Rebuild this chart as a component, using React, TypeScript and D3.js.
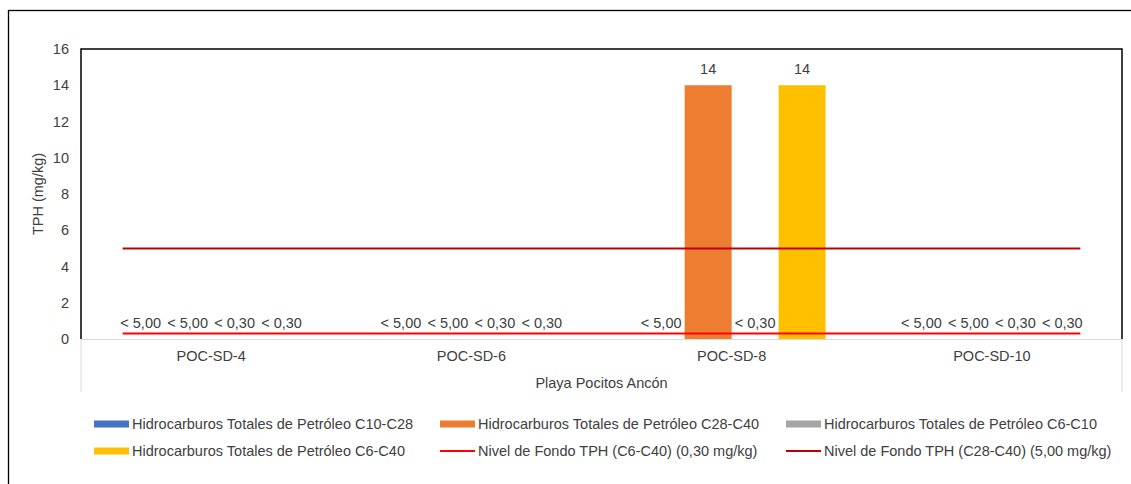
import React from 'react';
import * as d3 from 'd3';

const categories = ['POC-SD-4', 'POC-SD-6', 'POC-SD-8', 'POC-SD-10'];
const groupTitle = 'Playa Pocitos Ancón';

const seriesNames = [
  'Hidrocarburos Totales de Petróleo C10-C28',
  'Hidrocarburos Totales de Petróleo C28-C40',
  'Hidrocarburos Totales de Petróleo C6-C10',
  'Hidrocarburos Totales de Petróleo C6-C40',
];
const seriesColors = ['#4472C4', '#ED7D31', '#A5A5A5', '#FFC000'];

// valores (los "<" se dibujan en 0)
const c10c28 = [0, 0, 0, 0];
const c28c40 = [0, 0, 14, 0];
const c6c10 = [0, 0, 0, 0];
const c6c40 = [0, 0, 14, 0];

const c10c28Labels = ['< 5,00', '< 5,00', '< 5,00', '< 5,00'];
const c28c40Labels = ['< 5,00', '< 5,00', '14', '< 5,00'];
const c6c10Labels = ['< 0,30', '< 0,30', '< 0,30', '< 0,30'];
const c6c40Labels = ['< 0,30', '< 0,30', '14', '< 0,30'];

const levelNames = [
  'Nivel de Fondo TPH (C6-C40) (0,30 mg/kg)',
  'Nivel de Fondo TPH (C28-C40) (5,00 mg/kg)',
];
const levelValues = [0.3, 5];
const levelColors = ['#FF0000', '#C00000'];

const yTicks = [0, 2, 4, 6, 8, 10, 12, 14, 16];

const seriesValues = [c10c28, c28c40, c6c10, c6c40];
const seriesLabels = [c10c28Labels, c28c40Labels, c6c10Labels, c6c40Labels];

const W = 1131;
const H = 484;
const margin = { top: 49, right: 9, bottom: 145, left: 81 };
const font = 'Liberation Sans, Arial, sans-serif';
const textColor = '#404040';
const fs = 14.5;

export default function App() {
  const left = margin.left;
  const right = W - margin.right;
  const top = margin.top;
  const bottom = H - margin.bottom;

  const x0 = d3.scaleBand<string>().domain(categories).range([left, right]);
  const x1 = d3
    .scaleBand<number>()
    .domain(d3.range(seriesNames.length))
    .range([0, x0.bandwidth()])
    .paddingOuter(0.77);
  const y = d3.scaleLinear().domain([0, 16]).range([bottom, top]);

  // líneas de nivel: de la primera a la última categoría (con margen)
  const xLine = d3.scaleLinear().domain([-0.5, categories.length - 0.5]).range([left, right]);
  const lineStart = xLine(-0.34);
  const lineEnd = xLine(categories.length - 1 + 0.34);

  const legendItems = [
    ...seriesNames.map((n, i) => ({ name: n, color: seriesColors[i], kind: 'bar' })),
    ...levelNames.map((n, i) => ({ name: n, color: levelColors[i], kind: 'line' })),
  ];

  return (
    <svg
      width={W}
      height={H}
      style={{ position: 'absolute', left: 0, top: 0, fontFamily: font }}
    >
      <rect x={0} y={0} width={W} height={H} fill="#fff" />
      <rect x={8.5} y={10.5} width={1130} height={480} fill="none" stroke="#000" strokeWidth={1.3} />

      {/* barras */}
      {categories.map((c, ci) => (
        <g key={c} transform={`translate(${x0(c)},0)`}>
          {seriesValues.map((vals, si) => (
            <rect
              key={si}
              x={x1(si)}
              y={y(vals[ci])}
              width={x1.bandwidth()}
              height={y(0) - y(vals[ci])}
              fill={seriesColors[si]}
            />
          ))}
          {seriesLabels.map((labs, si) => (
            <text
              key={si}
              x={(x1(si) as number) + x1.bandwidth() / 2}
              y={y(seriesValues[si][ci]) - 11}
              textAnchor="middle"
              fontSize={fs}
              fill={textColor}
            >
              {labs[ci]}
            </text>
          ))}
        </g>
      ))}

      {/* líneas de nivel */}
      {levelValues.map((v, i) => (
        <line
          key={i}
          x1={lineStart}
          x2={lineEnd}
          y1={y(v)}
          y2={y(v)}
          stroke={levelColors[i]}
          strokeWidth={2}
        />
      ))}

      {/* borde del área de trazado */}
      <path
        d={`M${left},${bottom}V${top}H${right}V${bottom}`}
        fill="none"
        stroke="#000"
        strokeWidth={1.5}
      />
      {/* eje de categorías */}
      <line x1={left} x2={right} y1={bottom + 0.5} y2={bottom + 0.5} stroke="#D9D9D9" strokeWidth={1} />
      <line x1={left} x2={left} y1={bottom} y2={bottom + 53} stroke="#D9D9D9" strokeWidth={1} />
      <line x1={right} x2={right} y1={bottom} y2={bottom + 53} stroke="#D9D9D9" strokeWidth={1} />
      {categories.map((c) => (
        <text
          key={c}
          x={(x0(c) as number) + x0.bandwidth() / 2}
          y={bottom + 22}
          textAnchor="middle"
          fontSize={fs}
          fill={textColor}
        >
          {c}
        </text>
      ))}
      <text x={(left + right) / 2} y={bottom + 49} textAnchor="middle" fontSize={fs} fill={textColor}>
        {groupTitle}
      </text>

      {/* eje Y */}
      {yTicks.map((t) => (
        <text key={t} x={left - 12} y={y(t) + 5} textAnchor="end" fontSize={fs} fill={textColor}>
          {t}
        </text>
      ))}
      <text
        transform={`translate(${left - 38},${(top + bottom) / 2}) rotate(-90)`}
        textAnchor="middle"
        fontSize={fs}
        fill={textColor}
      >
        TPH (mg/kg)
      </text>

      {/* leyenda */}
      {legendItems.map((it, i) => {
        const col = i % 3;
        const row = Math.floor(i / 3);
        const lx = 94 + col * 346;
        const ly = 424 + row * 27;
        return (
          <g key={it.name} transform={`translate(${lx},${ly})`}>
            {it.kind === 'bar' ? (
              <rect x={0} y={-3.5} width={35} height={7} fill={it.color} />
            ) : (
              <line x1={0} x2={35} y1={0} y2={0} stroke={it.color} strokeWidth={2} />
            )}
            <text x={38} y={5} fontSize={fs} fill={textColor}>
              {it.name}
            </text>
          </g>
        );
      })}
    </svg>
  );
}
